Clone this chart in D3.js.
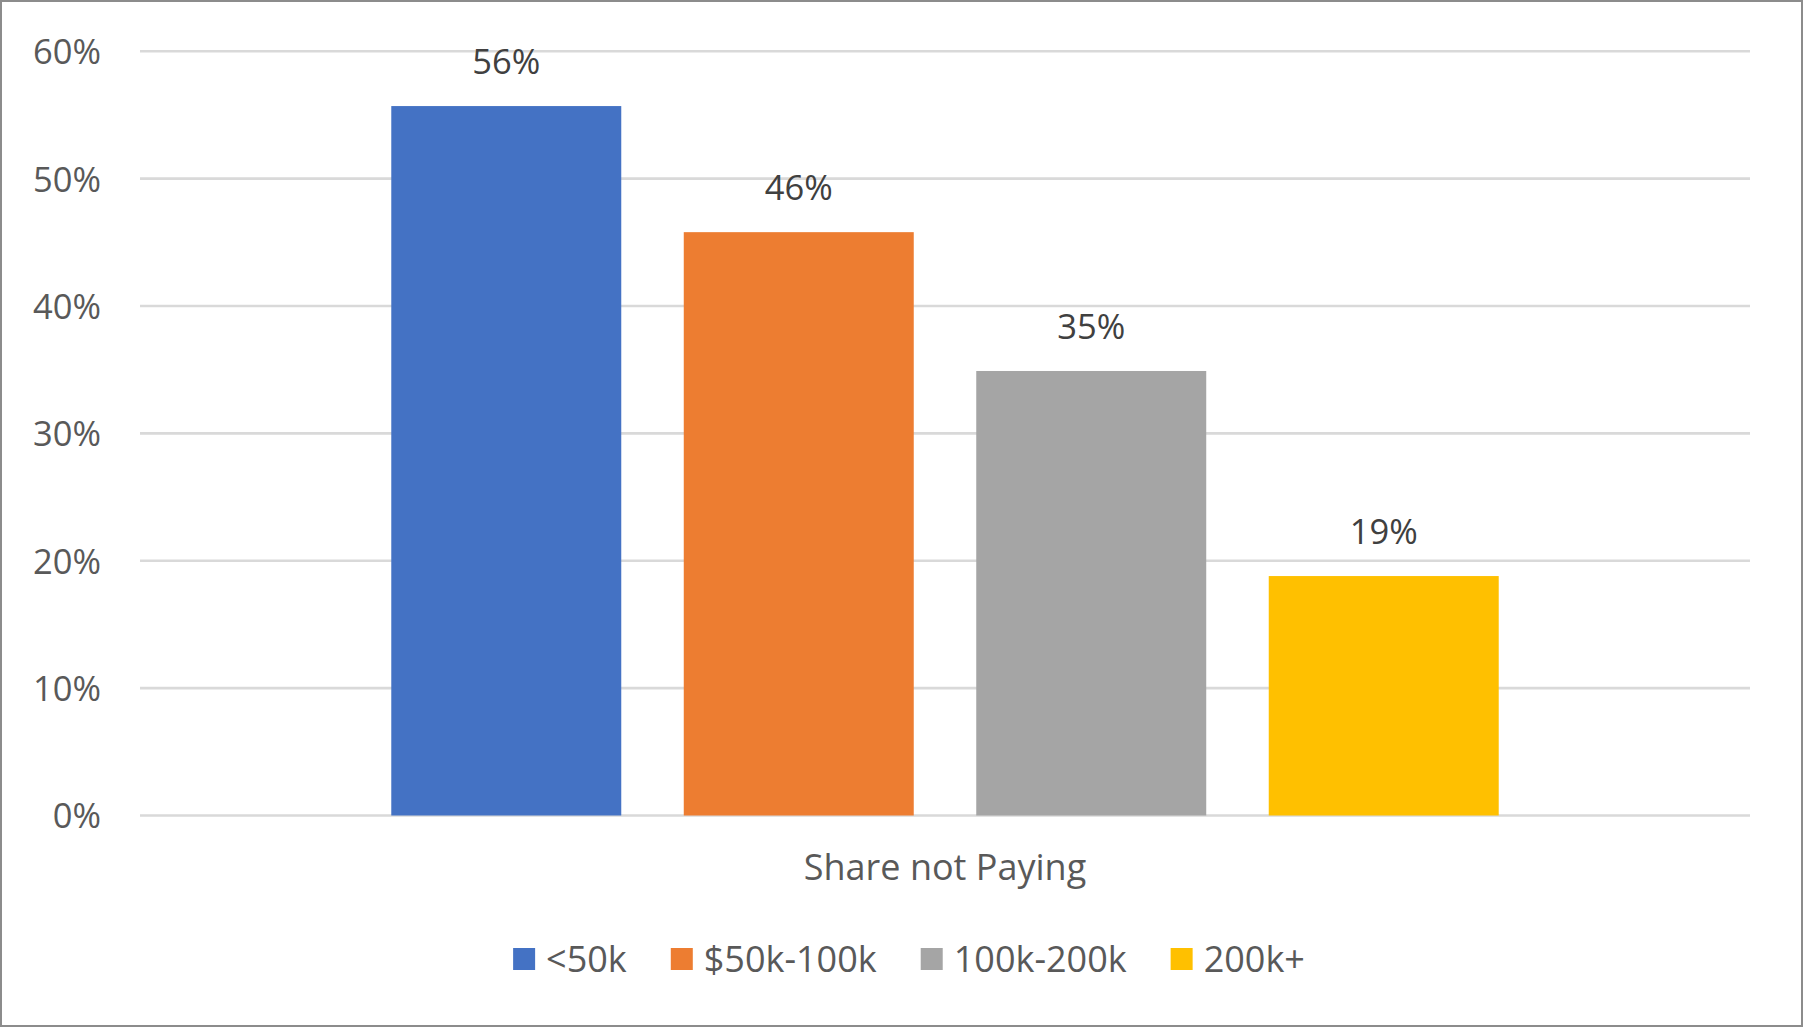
<!DOCTYPE html>
<html>
<head>
<meta charset="utf-8">
<script src="https://cdn.jsdelivr.net/npm/d3@7"></script>
<style>
  html, body { margin: 0; padding: 0; background: #fff; }
  svg { display: block; }
  text { font-family: "Open Sans", "Noto Sans", sans-serif; }
</style>
</head>
<body>
<svg id="chart" width="1803" height="1027"></svg>
<script>
// ---- data ----
const categories = ["Share not Paying"];
const seriesNames = ["<50k", "$50k-100k", "100k-200k", "200k+"];
const seriesValues = [55.7, 45.8, 34.9, 18.8];
const seriesColors = ["#4472C4", "#ED7D31", "#A5A5A5", "#FFC000"];
const yTicks = [0, 10, 20, 30, 40, 50, 60];

const W = 1803, H = 1027;
const FONT = 34.5;
const FONT_B = 36;
const plot = { left: 140, right: 1750, top: 51.3, bottom: 815.5 };
const svg = d3.select("#chart");

// frame
svg.append("rect")
  .attr("x", 1).attr("y", 1).attr("width", W - 2).attr("height", H - 2)
  .attr("fill", "#fff").attr("stroke", "#8c8c8c").attr("stroke-width", 2);

const y = d3.scaleLinear().domain([0, 60]).range([plot.bottom, plot.top]);
const x0 = d3.scaleBand().domain(categories).range([plot.left, plot.right])
  .paddingInner(0).paddingOuter(0.2269);
const x1 = d3.scaleBand().domain(seriesNames).range([0, x0.bandwidth()])
  .paddingInner(0.2137).paddingOuter(0);

// gridlines
svg.append("g").selectAll("line").data(yTicks).join("line")
  .attr("x1", plot.left).attr("x2", plot.right)
  .attr("y1", d => y(d)).attr("y2", d => y(d))
  .attr("stroke", "#d9d9d9").attr("stroke-width", 2.6);

// y axis labels
const yAxis = d3.axisLeft(y).tickValues(yTicks).tickFormat(d => d + "%").tickSize(0).tickPadding(0);
const ya = svg.append("g").attr("transform", "translate(101,0)").call(yAxis);
ya.select(".domain").remove();
ya.selectAll("text")
  .attr("font-family", "'Open Sans', 'Noto Sans', sans-serif")
  .attr("font-size", FONT).attr("fill", "#595959")
  .attr("dy", "0.36em");

// bars
const data = seriesNames.map((s, i) => ({ s, v: seriesValues[i], c: seriesColors[i] }));
const g = svg.append("g").attr("transform", `translate(${x0(categories[0])},0)`);
g.selectAll("rect").data(data).join("rect")
  .attr("x", d => x1(d.s)).attr("width", x1.bandwidth())
  .attr("y", d => y(d.v)).attr("height", d => y(0) - y(d.v))
  .attr("fill", d => d.c);

// data labels
g.selectAll("text.lbl").data(data).join("text")
  .attr("class", "lbl")
  .attr("x", d => x1(d.s) + x1.bandwidth() / 2)
  .attr("y", d => y(d.v) - 32)
  .attr("text-anchor", "middle")
  .attr("font-size", FONT).attr("fill", "#404040")
  .text(d => Math.round(d.v) + "%");

// x axis category label
svg.append("g").selectAll("text").data(categories).join("text")
  .attr("x", d => x0(d) + x0.bandwidth() / 2)
  .attr("y", 880)
  .attr("text-anchor", "middle")
  .attr("font-size", FONT_B).attr("fill", "#595959")
  .text(d => d);

// legend
const leg = svg.append("g");
const items = leg.selectAll("g").data(data).join("g");
items.append("rect").attr("width", 22).attr("height", 22).attr("y", 948).attr("fill", d => d.c);
items.append("text").attr("x", 33).attr("y", 971.5).attr("font-size", FONT_B).attr("fill", "#595959").text(d => d.s);
let cx = 0;
items.each(function () {
  const t = d3.select(this).select("text").node().getComputedTextLength();
  d3.select(this).select("rect").attr("x", cx);
  d3.select(this).select("text").attr("x", cx + 33);
  cx += 33 + t + 44;
});
const total = cx - 44;
leg.attr("transform", `translate(${909 - total / 2},0)`);
</script>
</body>
</html>
